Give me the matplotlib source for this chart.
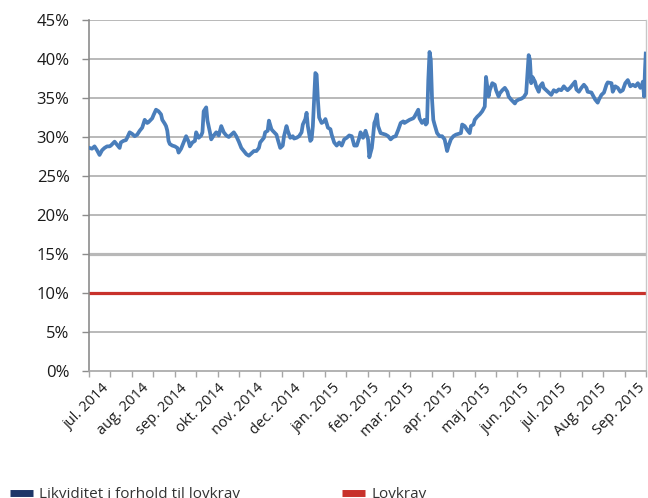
import numpy as np
import pandas as pd
import matplotlib.pyplot as plt
from matplotlib.lines import Line2D
from matplotlib.ticker import FixedLocator, FuncFormatter

plt.rcParams['font.family'] = ['Open Sans', 'DejaVu Sans']

# liquidity relative to legal requirement (days since 1 Jul 2014, %)
start = pd.Timestamp('2014-07-01')
days = [-10, -8, -6, -4, -2, 0, 2, 4, 6, 7, 10, 12, 14, 15, 17, 19, 20, 22, 24, 26,
        28, 30, 32, 34, 36, 37, 40, 41, 43, 45, 47, 48, 50, 51, 52, 53, 54, 56, 58, 60,
        61, 63, 65, 67, 69, 70, 72, 74, 75, 77, 79, 80, 81, 83, 84, 86, 87, 89, 91, 93,
        95, 97, 99, 101, 103, 105, 107, 109, 111, 113, 115, 117, 119, 121, 123, 125, 126, 129, 130, 132,
        133, 135, 136, 139, 140, 142, 144, 145, 147, 148, 150, 152, 153, 155, 157, 159, 160, 162, 163, 164,
        166, 167, 168, 169, 170, 171, 172, 173, 175, 177, 178, 180, 182, 183, 185, 187, 189, 191, 193, 195,
        197, 199, 201, 203, 205, 206, 208, 210, 212, 213, 215, 216, 217, 218, 219, 220, 222, 224, 226, 228,
        230, 232, 234, 236, 238, 240, 241, 243, 245, 248, 249, 252, 253, 255, 257, 258, 259, 260, 261, 262,
        263, 264, 265, 267, 269, 271, 273, 275, 276, 278, 280, 282, 284, 286, 287, 289, 291, 293, 294, 296,
        297, 299, 301, 303, 305, 306, 307, 308, 309, 311, 313, 314, 316, 317, 319, 321, 323, 324, 326, 329,
        330, 332, 334, 336, 338, 340, 341, 342, 343, 345, 346, 348, 349, 351, 352, 354, 356, 358, 360, 362,
        364, 366, 368, 369, 371, 373, 375, 377, 378, 380, 382, 384, 386, 387, 390, 391, 393, 395, 396, 398,
        400, 402, 403, 406, 407, 409, 411, 413, 415, 417, 419, 421, 423, 425, 427, 429, 430, 431, 432, 432.7,
        433.3]
likviditet = [28.6, 28.5, 28.8, 28.3, 27.7, 28.3, 28.6, 28.8, 28.8, 28.9, 29.4, 29.0, 28.6, 29.3, 29.5, 29.6, 29.9, 30.6, 30.4, 30.1,
              30.3, 30.8, 31.2, 32.2, 31.8, 31.9, 32.4, 32.8, 33.5, 33.3, 32.9, 32.2, 31.7, 31.4, 30.8, 29.5, 29.1, 28.9, 28.8, 28.6,
              28.0, 28.5, 29.3, 30.1, 29.4, 28.8, 29.3, 29.5, 30.6, 29.9, 30.2, 30.6, 33.3, 33.8, 32.1, 30.6, 29.7, 30.2, 30.6, 30.2,
              31.4, 30.6, 30.2, 30.0, 30.3, 30.6, 30.1, 29.4, 28.6, 28.2, 27.8, 27.6, 27.9, 28.2, 28.2, 28.6, 29.3, 29.9, 30.6, 30.8,
              32.1, 31.0, 30.8, 30.3, 29.7, 28.6, 28.9, 30.1, 31.4, 30.8, 29.9, 30.1, 29.8, 29.9, 30.1, 30.6, 31.6, 32.3, 33.1, 31.4,
              29.5, 29.7, 31.4, 34.8, 38.2, 38.0, 34.8, 32.5, 31.8, 32.0, 32.3, 31.2, 31.0, 30.3, 29.3, 28.9, 29.3, 28.9, 29.7, 29.9,
              30.2, 30.1, 28.9, 28.9, 29.9, 30.6, 29.9, 30.8, 29.7, 27.4, 28.6, 30.1, 31.8, 32.2, 32.9, 31.4, 30.5, 30.4, 30.3, 30.1,
              29.7, 30.0, 30.1, 30.9, 31.8, 32.0, 31.8, 32.0, 32.2, 32.4, 32.6, 33.5, 32.4, 31.8, 32.2, 31.6, 31.8, 37.3, 40.9, 39.9,
              34.8, 32.2, 31.6, 30.5, 30.1, 30.1, 29.7, 28.2, 28.8, 29.7, 30.1, 30.3, 30.4, 30.5, 31.6, 31.4, 30.9, 30.5, 31.4, 31.6,
              32.2, 32.6, 32.9, 33.3, 33.9, 37.7, 36.5, 35.2, 36.0, 36.9, 36.7, 36.0, 35.2, 35.6, 36.0, 36.3, 35.8, 35.2, 34.8, 34.3,
              34.6, 34.8, 34.9, 35.1, 35.6, 40.5, 39.9, 36.9, 37.7, 37.1, 36.5, 35.8, 36.5, 36.9, 36.3, 36.0, 35.7, 35.4, 36.0, 35.8,
              36.1, 36.0, 36.5, 36.3, 36.0, 36.3, 36.7, 37.1, 36.1, 35.8, 36.3, 36.7, 36.3, 35.8, 35.7, 35.4, 34.8, 34.4, 34.8, 35.4,
              35.7, 36.7, 37.0, 36.9, 35.8, 36.5, 36.3, 35.8, 36.0, 36.9, 37.3, 36.5, 36.7, 36.5, 36.9, 36.3, 36.5, 37.1, 35.2, 38.6,
              40.7]
lovkrav = 10.0
graense = 15.0

months = pd.date_range('2014-07-01', '2015-09-01', freq='MS')
month_labels = ['jul. 2014', 'aug. 2014', 'sep. 2014', 'okt. 2014', 'nov. 2014', 'dec. 2014',
                'jan. 2015', 'feb. 2015', 'mar. 2015', 'apr. 2015', 'maj 2015', 'jun. 2015',
                'jul. 2015', 'Aug. 2015', 'Sep. 2015']
month_pos = [(m - start).days for m in months]

blue = '#4a7ebb'
red = '#c8312b'
grid = '#a6a6a6'

fig = plt.figure(figsize=(6.48, 4.98), dpi=100)
ax = fig.add_axes([89 / 648, 1 - 371 / 498, 557 / 648, 351 / 498])

x0, x1 = -10.4, 433.5
ax.set_xlim(x0, x1)
ax.set_ylim(0, 45)

for v in np.arange(5, 46, 5):
    if v in (lovkrav, graense):
        continue
    ax.axhline(v, color=grid, lw=1.1, zorder=1)
ax.axhline(graense, color='#b8b8b8', lw=2.3, zorder=2)
ax.axhline(lovkrav, color=red, lw=2.3, zorder=2)
ax.plot(days, likviditet, color=blue, lw=2.7, solid_joinstyle='round', zorder=3)

ax.set_yticks(np.arange(0, 46, 5))
ax.yaxis.set_major_formatter(FuncFormatter(lambda v, p: f'{v:.0f}%'))
ax.tick_params(axis='y', length=5, width=1, color='#8c8c8c', pad=9, labelsize=12, labelcolor='#1a1a1a')

ax.xaxis.set_major_locator(FixedLocator(month_pos))
ax.set_xticklabels(month_labels)
ax.xaxis.set_minor_locator(FixedLocator(np.linspace(x0, x1, 27)))
ax.tick_params(axis='x', which='major', length=0, pad=7, labelsize=10.5, labelcolor='#1a1a1a')
ax.tick_params(axis='x', which='minor', length=4, width=1, color='#a6a6a6')
for lab in ax.get_xticklabels():
    lab.set_rotation(45)
    lab.set_ha('right')
    lab.set_va('top')
    lab.set_rotation_mode('anchor')

ax.spines['top'].set_visible(False)
ax.spines['left'].set_color('#8c8c8c')
ax.spines['left'].set_linewidth(1.2)
ax.spines['bottom'].set_color('#a6a6a6')
ax.spines['bottom'].set_linewidth(1.2)
ax.spines['right'].set_color('#c8c8c8')
ax.spines['right'].set_linewidth(1.0)

handles = [Line2D([], [], color='#1e3668', lw=5, solid_capstyle='butt'),
           Line2D([], [], color=red, lw=5, solid_capstyle='butt')]
fig.legend(handles, ['Likviditet i forhold til lovkrav', 'Lovkrav'],
           loc='upper left', bbox_to_anchor=(10 / 648, 1 - 487 / 498), ncol=2,
           frameon=False, fontsize=11, handlelength=1.5, handletextpad=0.4,
           columnspacing=6.7, borderpad=0, borderaxespad=0, labelcolor='#333333')

fig.savefig('out.png', dpi=100)
